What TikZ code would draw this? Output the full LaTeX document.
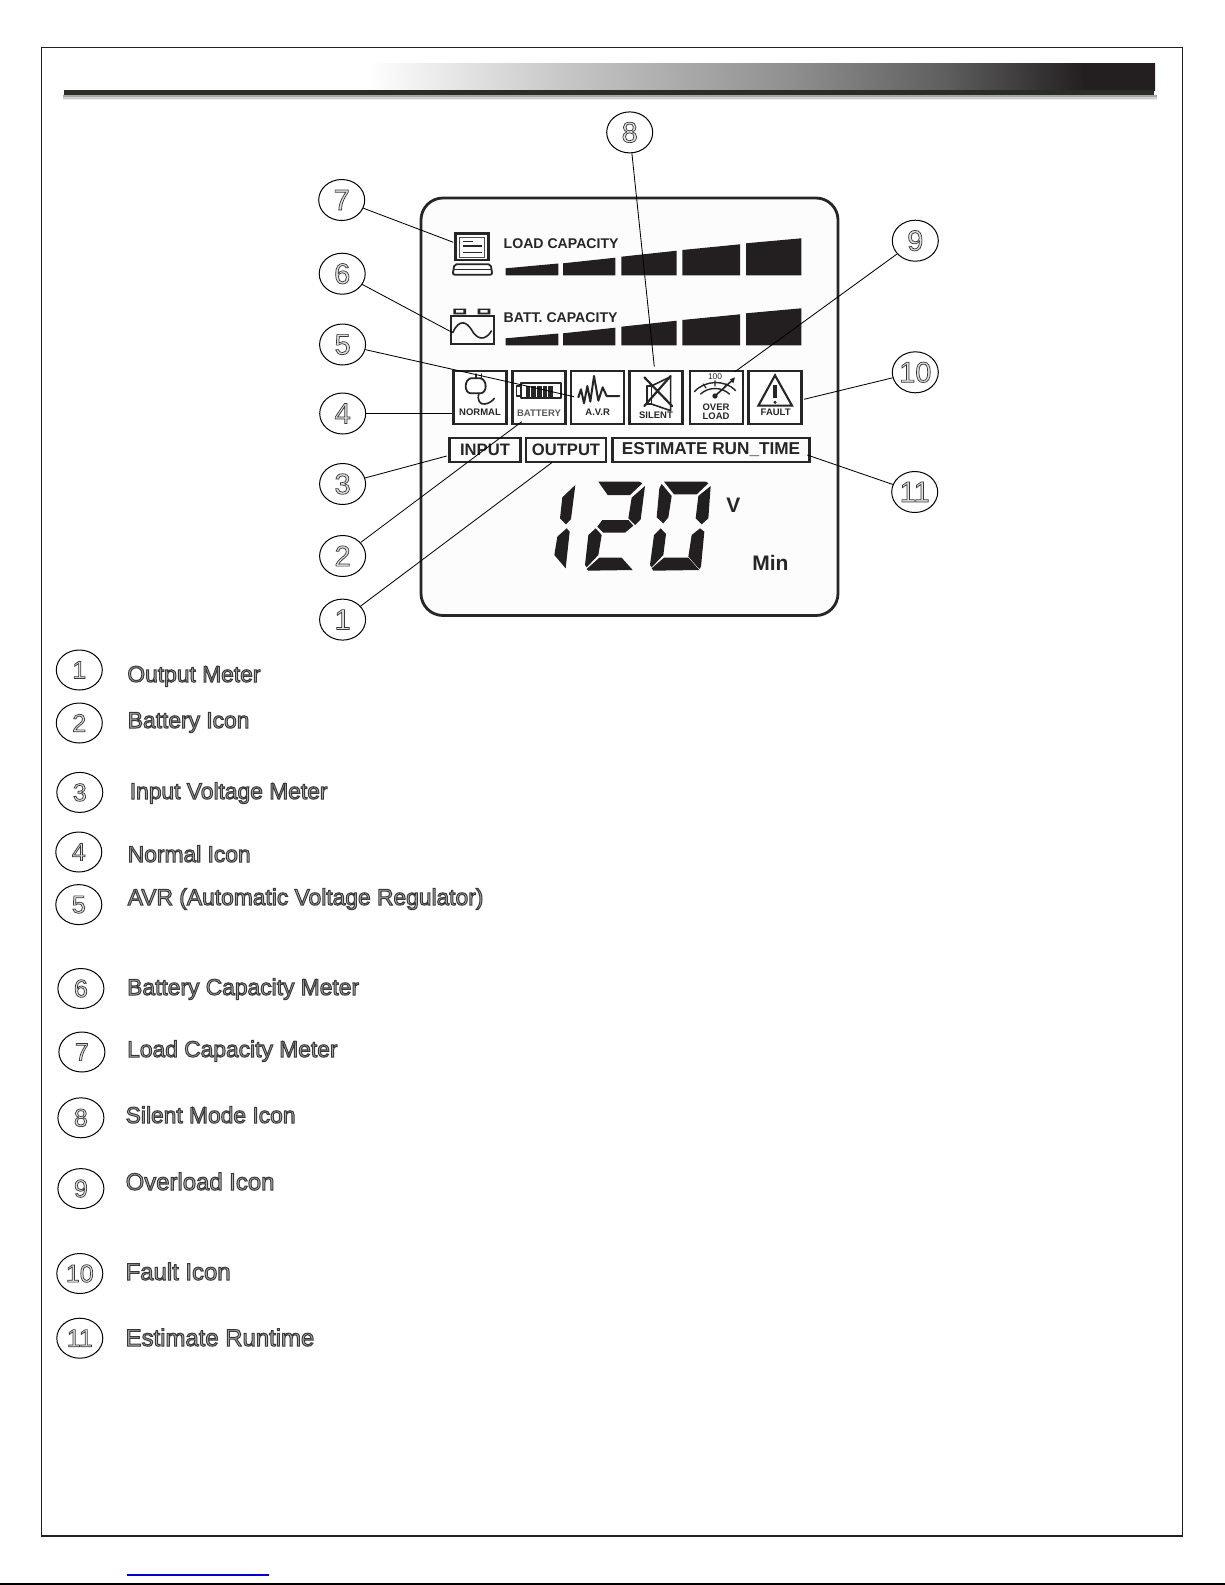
\documentclass[tikz,border=0pt]{standalone}
\usepackage{fontspec}
\setmainfont{Liberation Sans}
\usetikzlibrary{shapes.geometric}
\definecolor{ink}{HTML}{231F20}
\definecolor{barink}{HTML}{2B2E28}
\definecolor{linkblue}{HTML}{0000CC}
\pgfdeclarehorizontalshading{hdrshade}{100bp}{color(0bp)=(white); color(38.3bp)=(white); color(47.8bp)=(black!22); color(58.8bp)=(black!44); color(66.2bp)=(black!63); color(72.9bp)=(ink); color(100bp)=(ink)}
\newcommand\outl[1]{\special{pdf:code q 2 Tr 0.5 w 0.22 G}#1\special{pdf:code Q}}
\newcommand\outlb[1]{\special{pdf:code q 2 Tr 0.36 w 0.22 G}#1\special{pdf:code Q}}
\newcommand\fsz[1]{\fontsize{#1}{#1}\selectfont}
\tikzset{
  bub/.style={ellipse,draw=black,line width=.5pt,minimum width=23pt,minimum height=20.5pt,inner sep=0pt,fill=white,font=\fsz{14.5},text=black!12},
  lbub/.style={ellipse,draw=black,line width=.5pt,minimum width=23pt,minimum height=20pt,inner sep=0pt,fill=white,font=\fsz{12.5},text=black!12},
  leg/.style={anchor=base west,inner sep=0pt,font=\fsz{11.4},text=black!30},
  legb/.style={leg,font=\fsz{11.95}},
  conn/.style={line width=.42pt,black},
  iconbox/.style={draw=black!85,line width=1.3pt,minimum width=26.5pt,minimum height=26.5pt,inner sep=0pt,fill=white},
  txtbox/.style={draw=black!85,line width=1.1pt,minimum height=12.2pt,inner sep=0pt,font=\bfseries\fsz{8.3},text=black!85},
  icotxt/.style={inner sep=0pt,font=\bfseries\fsz{4.75},text=black!85},
  captxt/.style={anchor=base west,inner sep=0pt,font=\bfseries\fsz{7.05},text=black!85},
  seg/.style={fill=ink,draw=none},
  ico/.style={draw=black!85,line width=.9pt,line join=round,line cap=round}
}
\begin{document}
\begin{tikzpicture}[x=.5pt,y=-.5pt]
\useasboundingbox (0,0) rectangle (1225,1585);
\fill[white] (0,0) rectangle (1225,1585);
% frame
\draw[ink,line width=.75pt] (41.5,47.5) rectangle (1182.5,1536);
% header bar
\foreach \o/\a in {5/.08,3.5/.12,2/.18}{\fill[black,opacity=\a] (63,95) rectangle (1157,95+\o);}
\shade[shading=hdrshade,shading angle=3] (64,63) rectangle (1155,90);
\fill[barink] (64,90) rectangle (1154,95);
% panel
\draw[black!85,line width=1.4pt,rounded corners=11pt,fill=black!1] (421,198) rectangle (838,615.5);
% meters
\foreach \d in {0,70}{
 \fill[ink] (505.7,275.3+\d) -- (505.7,268.3+\d) -- (558.3,263.5+\d) -- (558.3,275.3+\d) -- cycle;
 \fill[ink] (563,275.3+\d) -- (563,263.3+\d) -- (615.3,257.7+\d) -- (615.3,275.3+\d) -- cycle;
 \fill[ink] (621.3,275.3+\d) -- (621.3,256.7+\d) -- (676.7,250.7+\d) -- (676.7,275.3+\d) -- cycle;
 \fill[ink] (682.3,275.3+\d) -- (682.3,250+\d) -- (740,244.3+\d) -- (740,275.3+\d) -- cycle;
 \fill[ink] (746,275.3+\d) -- (746,243.3+\d) -- (801.3,238.3+\d) -- (801.3,275.3+\d) -- cycle;
}
\node[captxt] (lc) at (503.3,248) {LOAD CAPACITY};
\node[captxt] (bc) at (503.3,322) {BATT. CAPACITY};
% computer + battery icons, zoom coordinates (1/3 px)
\begin{scope}[x=.16667pt,y=-.16667pt,shift={(150pt,-90pt)}]
 \draw[black!85,line width=1.4pt] (466,161) rectangle (565,240);
 \draw[black!70,line width=.4pt] (478,172) rectangle (553,232);
 \draw[black!85,line width=.55pt] (490,184) -- (520,184) (490,198) -- (545,198) (490,217) -- (545,217);
 \draw[black!85,line width=.9pt,rounded corners=1pt] (458,284) -- (463,253) -- (572,253) -- (577,284) -- cycle;
 \draw[black!85,line width=.5pt] (462,268) -- (573,268);
 \draw[black!85,line width=.9pt] (452,408) rectangle (581,493);
 \fill[black!85] (460,386) rectangle (498,403) (533,386) rectangle (571,403);
 \fill[black!2] (468,390) rectangle (490,398) (541,390) rectangle (563,398);
 \draw[black!85,line width=.8pt] (458,458) .. controls (478,415) and (500,425) .. (515,450) .. controls (530,478) and (555,485) .. (575,452);
\end{scope}
% status icons
\node[iconbox] (inormal) at (480,397.5) {};
\node[iconbox] (ibatt) at (539.2,397.5) {};
\node[iconbox] (iavr) at (597.5,397.5) {};
\node[iconbox] (isil) at (656,397.5) {};
\node[iconbox] (iover) at (716.3,397.5) {};
\node[iconbox] (ifault) at (775.2,397.5) {};
\begin{scope}[x=.16667pt,y=-.16667pt,shift={(215pt,-180pt)}]
 % plug
 \draw[ico] (122,55) -- (152,55) .. controls (172,60) and (172,98) .. (152,100) -- (122,100) .. controls (102,98) and (102,60) .. (122,55) -- cycle;
 \draw[ico,line width=.7pt] (138,42) -- (138,55) (155,42) -- (155,55);
 \draw[ico,line width=.8pt] (147,100) .. controls (140,120) and (150,135) .. (165,132) .. controls (178,130) and (188,122) .. (193,115);
 % battery
 \draw[ico,line width=1pt] (272,68) rectangle (392,115);
 \draw[ico,line width=.8pt] (272,78) -- (260,78) -- (260,108) -- (272,108);
 \foreach \x in {287,304,321,338,355}{\fill[black!85] (\x,78) rectangle (\x+14,112);}
 % avr
 \draw[ico,line width=1pt] (445,112) -- (453,88) -- (462,130) -- (472,78) -- (481,125) -- (492,48) -- (505,122) -- (518,82) -- (530,108) -- (568,108);
 % silent
 \draw[ico,line width=.8pt] (651,78) rectangle (664,132);
 \draw[ico,line width=.8pt] (664,78) -- (722,50) -- (722,152) -- (664,132);
 \draw[ico,line width=1.1pt] (643,52) -- (726,138) (643,138) -- (722,48);
 % gauge
 \draw[ico,line width=.7pt] (793,95) .. controls (825,60) and (885,58) .. (917,92);
 \draw[ico,line width=.7pt] (812,102) .. controls (835,80) and (875,80) .. (898,102);
 \draw[ico,line width=.6pt] (855,62) -- (855,78) (820,72) -- (828,84) (890,72) -- (882,84);
 \draw[ico,line width=.8pt] (855,108) -- (910,58);
 \fill[black!85] (855,108) circle[radius=8];
 \fill[black!85] (915,52) -- (900,58) -- (910,70) -- cycle;
 % fault
 \draw[ico,line width=1.05pt,line join=miter] (1035,46) -- (985,137) -- (1086,137) -- cycle;
 \draw[black!85,line width=1.6pt] (1035,75) -- (1035,115);
 \fill[black!85] (1035,127) circle[radius=5];
 \node[icotxt] (tnormal) at (150,158) {NORMAL};
 \node[icotxt,text=black!65] (tbatt) at (327,160) {BATTERY};
 \node[icotxt] (tavr) at (503,157) {A.V.R};
 \node[icotxt] (tsil) at (678,165) {SILENT};
 \node[icotxt,font=\bfseries\fsz{4.2}] (thund) at (855,49) {\mdseries 100};
 \node[icotxt] (tover) at (858,142) {OVER};
 \node[icotxt] (tload) at (858,170) {LOAD};
 \node[icotxt] (tfault) at (1037,158) {FAULT};
\end{scope}
% text boxes
\node[txtbox,minimum width=35.5pt] (binput) at (485,450) {INPUT};
\node[txtbox,minimum width=40.2pt] (boutput) at (566,450) {OUTPUT};
\node[txtbox,minimum width=98.5pt,font=\bfseries\fsz{8.6}] (best) at (711,450) {ESTIMATE RUN\_TIME};
% seven-segment digits
\begin{scope}[x=.16667pt,y=-.16667pt,shift={(260pt,-230pt)}]
 \fill[seg] (166,75) -- (153,177) -- (138,193) -- (120,175) -- (127,112) -- cycle;
 \fill[seg] (140,205) -- (149,215) -- (137,325) -- (103,285) -- (112,230) -- cycle;
 % 2
 \fill[seg] (235,65) -- (358,65) -- (367,70) -- (330,105) -- (263,105) -- cycle;
 \fill[seg] (375,78) -- (362,178) -- (345,195) -- (325,175) -- (335,113) -- cycle;
 \fill[seg] (247,180) -- (325,180) -- (340,197) -- (315,218) -- (250,218) -- (232,200) -- cycle;
 \fill[seg] (227,205) -- (245,225) -- (235,285) -- (200,322) -- (195,315) -- (205,225) -- cycle;
 \fill[seg] (238,293) -- (305,293) -- (338,330) -- (205,332) -- (200,327) -- cycle;
 % 0
 \fill[seg] (432,65) -- (558,65) -- (565,70) -- (530,103) -- (462,103) -- cycle;
 \fill[seg] (425,72) -- (455,108) -- (445,172) -- (430,190) -- (410,172) -- (418,85) -- cycle;
 \fill[seg] (572,78) -- (565,175) -- (545,193) -- (527,175) -- (535,108) -- cycle;
 \fill[seg] (422,205) -- (438,222) -- (430,285) -- (395,322) -- (390,315) -- (402,225) -- cycle;
 \fill[seg] (540,205) -- (553,215) -- (543,320) -- (538,327) -- (505,290) -- (515,225) -- cycle;
 \fill[seg] (432,293) -- (505,293) -- (538,330) -- (400,332) -- (395,325) -- cycle;
 \node[inner sep=0pt,font=\bfseries\fsz{10.5},text=black!85] (vlab) at (640,135) {V};
 \node[inner sep=0pt,font=\bfseries\fsz{10.5},text=black!85] (mlab) at (751,309) {Min};
\end{scope}
% callout bubbles
\node[bub] (c7) at (341.7,200) {\outlb{7}};
\node[bub] (c6) at (342.2,273.7) {\outlb{6}};
\node[bub] (c5) at (342.6,344.5) {\outlb{5}};
\node[bub] (c4) at (342.7,413.5) {\outlb{4}};
\node[bub] (c3) at (342.6,484) {\outlb{3}};
\node[bub] (c2) at (342.6,556) {\outlb{2}};
\node[bub] (c1) at (342.6,619.6) {\outlb{1}};
\node[bub] (c8) at (629.7,132.4) {\outlb{8}};
\node[bub] (c9) at (915.3,240.7) {\outlb{9}};
\node[bub] (c10) at (915.3,372.3) {\outlb{10}};
\node[bub] (c11) at (914.7,492) {\outlb{11}};
% connector ends
\coordinate (e7) at (453.3,242.3);
\coordinate (e6) at (452.7,332.7);
\coordinate (e5) at (574,396.7);
\coordinate (e3) at (446.7,456);
\coordinate (e2) at (521.7,421.7);
\coordinate (e1) at (551.7,462.7);
\coordinate (e8) at (654.3,366.7);
\coordinate (e9) at (735,371.7);
\coordinate (e10) at (804,399.3);
\coordinate (e11) at (807.3,455);
\draw[conn] (c7) -- (e7);
\draw[conn] (c6) -- (e6);
\draw[conn] (c5) -- (e5);
\draw[conn] (c4) -- (inormal.west |- c4);
\draw[conn] (c3) -- (e3);
\draw[conn] (c2) -- (e2);
\draw[conn] (c1) -- (e1);
\draw[conn] (c8) -- (e8);
\draw[conn] (c9) -- (e9);
\draw[conn] (c10) -- (e10);
\draw[conn] (c11) -- (e11);
% legend
\node[lbub] (l1) at (79.3,670) {\outlb{1}};
\node[lbub] (l2) at (79.3,723) {\outlb{2}};
\node[lbub] (l3) at (79.8,792.4) {\outlb{3}};
\node[lbub] (l4) at (78.8,852) {\outlb{4}};
\node[lbub] (l5) at (78.8,904.6) {\outlb{5}};
\node[lbub] (l6) at (80.9,988.5) {\outlb{6}};
\node[lbub] (l7) at (81.9,1052) {\outlb{7}};
\node[lbub] (l8) at (80.9,1117.8) {\outlb{8}};
\node[lbub] (l9) at (80.9,1188.6) {\outlb{9}};
\node[lbub] (l10) at (79.8,1273.5) {\outlb{10}};
\node[lbub] (l11) at (79.8,1338.2) {\outlb{11}};
\node[leg] (t1) at (127,682) {\outl{Output Meter}};
\node[leg] (t2) at (127.4,728) {\outl{Battery Icon}};
\node[leg] (t3) at (129.4,799) {\outl{Input Voltage Meter}};
\node[leg] (t4) at (127.4,862) {\outl{Normal Icon}};
\node[leg] (t5) at (127.4,905) {\outl{AVR (Automatic Voltage Regulator)}};
\node[leg] (t6) at (126.8,995) {\outl{Battery Capacity Meter}};
\node[leg] (t7) at (126.8,1057) {\outl{Load Capacity Meter}};
\node[leg] (t8) at (125.3,1123) {\outl{Silent Mode Icon}};
\node[legb] (t9) at (125.3,1190) {\outl{Overload Icon}};
\node[legb] (t10) at (125.3,1280) {\outl{Fault Icon}};
\node[legb] (t11) at (125.3,1346) {\outl{Estimate Runtime}};
% page foot
\draw[linkblue,line width=.6pt] (127,1575) -- (269,1575);
\draw[black,line width=.8pt] (0,1584) -- (1225,1584);
\end{tikzpicture}
\end{document}
